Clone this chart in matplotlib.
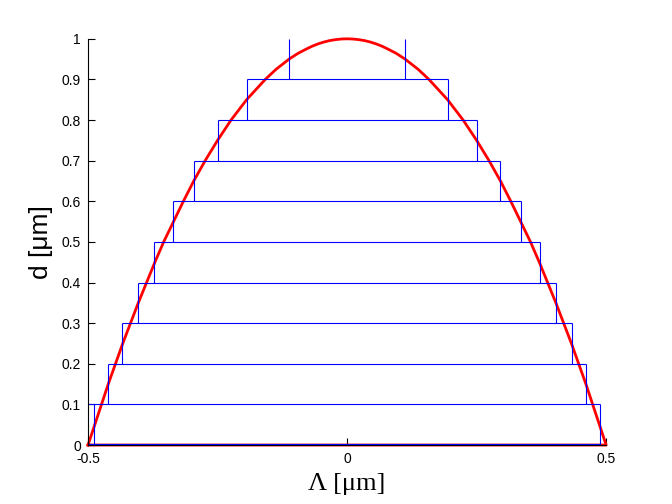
import matplotlib
matplotlib.use("Agg")
import matplotlib.pyplot as plt

# Layer levels (bottom of each layer) and half-widths of the staircase layers [um]
layer_bottom = [0.0, 0.1, 0.2, 0.3, 0.4, 0.5, 0.6, 0.7, 0.8, 0.9]
layer_height = 0.1
layer_halfwidth = [0.488, 0.462, 0.434, 0.404, 0.372, 0.336, 0.296, 0.250, 0.194, 0.112]

# Continuous profile (left half; right half mirrored)
profile_d = [0.0, 0.05, 0.1, 0.15, 0.2, 0.25, 0.3, 0.35, 0.4, 0.45, 0.5, 0.55,
             0.6, 0.65, 0.7, 0.75, 0.8, 0.85, 0.9, 0.925, 0.95, 0.964, 0.974,
             0.982, 0.9875, 0.992, 0.9955, 0.998, 0.9995, 1.0]
profile_x_left = [-0.500, -0.487, -0.474, -0.461, -0.447, -0.433, -0.418, -0.403,
                  -0.387, -0.371, -0.354, -0.335, -0.316, -0.296, -0.274, -0.250,
                  -0.224, -0.194, -0.158, -0.137, -0.112, -0.095, -0.080,
                  -0.067, -0.056, -0.045, -0.034, -0.022, -0.011, 0.0]

x_ticks = [-0.5, 0, 0.5]
x_ticklabels = ["-0.5", "0", "0.5"]
y_ticks = [0, 0.1, 0.2, 0.3, 0.4, 0.5, 0.6, 0.7, 0.8, 0.9, 1]
y_ticklabels = ["0", "0.1", "0.2", "0.3", "0.4", "0.5", "0.6", "0.7", "0.8", "0.9", "1"]
x_min, x_max = -0.5, 0.5

fig = plt.figure(figsize=(6.72, 5.04), dpi=100)
ax = fig.add_axes([0.131, 0.117, 0.771, 0.806])

blue_kw = dict(color=(0, 0, 1), lw=0.8, solid_capstyle="butt", zorder=3, clip_on=False)

# Staircase: verticals of each layer and the top edge of each layer (except last)
n = len(layer_bottom)
for k in range(n):
    y0 = layer_bottom[k]
    y1 = y0 + layer_height
    hw = layer_halfwidth[k]
    ax.plot([-hw, -hw], [y0, y1], **blue_kw)
    ax.plot([hw, hw], [y0, y1], **blue_kw)
    if k < n - 1:
        left = x_min if k == 0 else -hw
        ax.plot([left, hw], [y1, y1], **blue_kw)
# bottom edge (just above the red base line)
ax.plot([x_min, layer_halfwidth[0]], [0.002, 0.002], **blue_kw)

# Red profile: left half, mirrored right half, closed along the bottom
px = profile_x_left + [-v for v in profile_x_left[::-1][1:]] + [profile_x_left[0]]
pd = profile_d + profile_d[::-1][1:] + [profile_d[0]]
ax.plot(px, pd, color=(1, 0, 0), lw=2.0, zorder=2, clip_on=False,
        solid_joinstyle="round")

ax.set_xlim(x_min, x_max)
ax.set_ylim(0, 1)
ax.set_xticks(x_ticks)
ax.set_xticklabels(x_ticklabels)
ax.set_yticks(y_ticks)
ax.set_yticklabels(y_ticklabels)

for s in ["top", "right"]:
    ax.spines[s].set_visible(False)
for s in ["left", "bottom"]:
    ax.spines[s].set_linewidth(0.8)
    ax.spines[s].set_zorder(4)

ax.tick_params(direction="in", length=5, width=0.8, pad=5,
               labelsize=10)
for lab in ax.get_xticklabels() + ax.get_yticklabels():
    lab.set_fontfamily("Liberation Sans")

ax.set_ylabel("d [μm]", fontsize=19, fontfamily="Liberation Sans")
ax.yaxis.set_label_coords(-0.068, 0.5)
ax.set_xlabel("Λ [μm]", fontsize=19, fontfamily="Liberation Serif", va="top")
ax.xaxis.set_label_coords(0.5, -0.070)

fig.savefig("out.png", dpi=100)
